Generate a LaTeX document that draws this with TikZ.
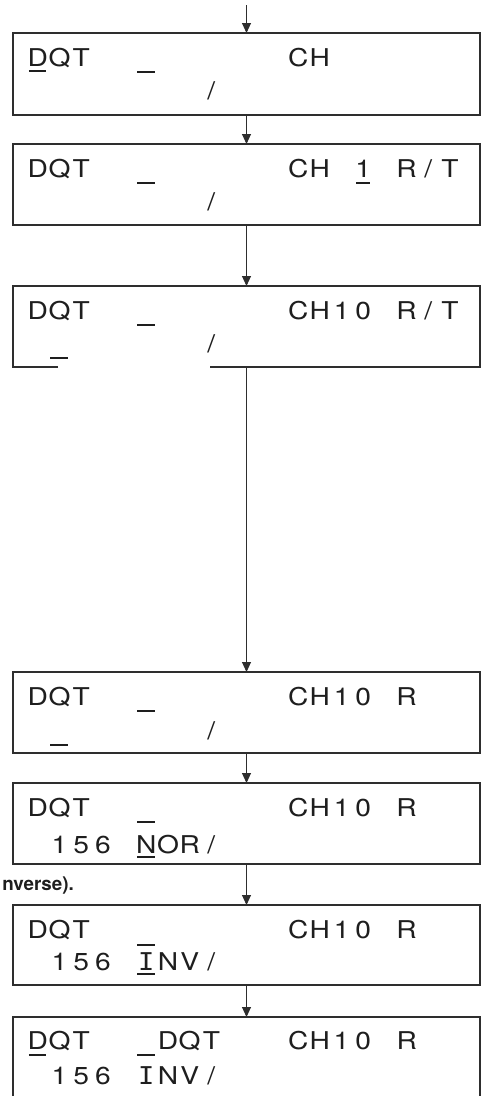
\documentclass[tikz,border=0pt]{standalone}
\usepackage{fontspec}
\setmainfont{TeX Gyre Heros}
\newfontfamily\lcdfont[FakeStretch=1.15]{TeX Gyre Heros}
\newfontfamily\monoI[FakeStretch=1.1]{DejaVu Sans Mono}
\usetikzlibrary{arrows.meta}
\newlength\lcdpitch
\setlength\lcdpitch{21.7pt}
\newcommand\lcdcell[1]{\makebox[\lcdpitch][c]{#1}}
\newcommand\lcdI{{\monoI I}}
\def\lcdscan#1{\ifx#1\relax\else\ifx#1.\lcdcell{}\else\lcdcell{#1}\fi\expandafter\lcdscan\fi}
\newcommand\lcdtext[1]{\lcdscan#1\relax}
\definecolor{ink}{HTML}{1E1E1E}
\definecolor{edge}{HTML}{2E2E2E}
\tikzset{
  lcdbox/.style={draw=edge, line width=1.1pt, minimum width=467pt, inner sep=0pt, outer sep=0pt},
  openbox/.style={minimum width=467pt, inner sep=0pt, outer sep=0pt},
  boxline/.style={draw=edge, line width=1.1pt},
  arr/.style={draw=edge, line width=0.9pt, -{Triangle[width=9pt,length=10pt]}},
  lcdtxt/.style={anchor=base west, inner sep=0pt, text=ink, font=\lcdfont\fontsize{24.5}{24.5}\selectfont},
  uline/.style={draw=ink, line width=1.6pt},
  frag/.style={anchor=base east, inner sep=0pt, text=ink, font=\bfseries\fontsize{18.8}{18.8}\selectfont}
}
\begin{document}
\begin{tikzpicture}[x=1pt,y=-1pt]
\useasboundingbox (0,0) rectangle (481,1096);
\clip (0,0) rectangle (481,1096);
% boxes
\node[lcdbox, minimum height=82pt] (b1) at (246.5,74) {};
\node[lcdbox, minimum height=81pt] (b2) at (246.5,184.5) {};
\node[openbox, minimum height=81pt] (b3) at (246.5,326.5) {};
\draw[boxline] ([xshift=45pt]b3.south west) -- (b3.south west) -- (b3.north west) -- (b3.north east) -- (b3.south east) -- ([xshift=197pt]b3.south west);
\node[lcdbox, minimum height=81pt] (b4) at (246.5,712.5) {};
\node[lcdbox, minimum height=81pt] (b5) at (246.5,823.5) {};
\node[lcdbox, minimum height=80pt] (b6) at (246.5,945) {};
\node[lcdbox, minimum height=90pt] (b7) at (246.5,1062) {};
% connectors
\coordinate (start) at (246.5,5);
\draw[arr] (start) -- (b1.north);
\draw[arr] (b1.south) -- (b2.north);
\draw[arr] (b2.south) -- (b3.north);
\draw[arr] (b3.south) -- (b4.north);
\draw[arr] (b4.south) -- (b5.north);
\draw[arr] (b5.south) -- (b6.north);
\draw[arr] (b6.south) -- (b7.north);
% box 1
\node[lcdtxt] (t1a) at (26.75,66) {\lcdtext{DQT.........CH}};
\node[lcdtxt] (t1b) at (26.75,99) {\lcdtext{......../}};
\draw[uline] ({26.75+2},71) -- ++(17.7,0);
\draw[uline] ({26.75+21.7*5+2},72) -- ++(17.7,0);
% box 2
\node[lcdtxt] (t2a) at (26.75,177) {\lcdtext{DQT.........CH.1.R/T}};
\node[lcdtxt] (t2b) at (26.75,210) {\lcdtext{......../}};
\draw[uline] ({26.75+21.7*5+2},183) -- ++(17.7,0);
\draw[uline] ({26.75+21.7*15+4},183) -- ++(13.7,0);
% box 3
\node[lcdtxt] (t3a) at (26.75,319) {\lcdtext{DQT.........CH10.R/T}};
\node[lcdtxt] (t3b) at (26.75,352) {\lcdtext{......../}};
\draw[uline] ({26.75+21.7*5+2},325) -- ++(17.7,0);
\draw[uline] ({26.75+21.7*1+2},358) -- ++(17.7,0);
% box 4
\node[lcdtxt] (t4a) at (26.75,705) {\lcdtext{DQT.........CH10.R}};
\node[lcdtxt] (t4b) at (26.75,739) {\lcdtext{......../}};
\draw[uline] ({26.75+21.7*5+2},711) -- ++(17.7,0);
\draw[uline] ({26.75+21.7*1+2},745) -- ++(17.7,0);
% box 5
\node[lcdtxt] (t5a) at (26.75,816) {\lcdtext{DQT.........CH10.R}};
\node[lcdtxt] (t5b) at (26.75,853) {\lcdtext{.156.NOR/}};
\draw[uline] ({26.75+21.7*5+2},822) -- ++(17.7,0);
\draw[uline] ({26.75+21.7*5+2},857) -- ++(17.7,0);
% box 6
\node[lcdtxt] (t6a) at (26.75,938) {\lcdtext{DQT.........CH10.R}};
\node[lcdtxt] (t6b) at (26.75,970) {\lcdtext{.156.\lcdI NV/}};
\draw[uline] ({26.75+21.7*5+2},945) -- ++(17.7,0);
\draw[uline] ({26.75+21.7*5+2},974) -- ++(17.7,0);
% box 7
\node[lcdtxt] (t7a) at (26.75,1049) {\lcdtext{DQT...DQT...CH10.R}};
\node[lcdtxt] (t7b) at (26.75,1084) {\lcdtext{.156.\lcdI NV/}};
\draw[uline] ({26.75+2},1055) -- ++(17.7,0);
\draw[uline] ({26.75+21.7*5+2},1055) -- ++(17.7,0);
% text fragment at left
\node[frag] (frag) at (74,890) {nverse).};
\end{tikzpicture}
\end{document}
